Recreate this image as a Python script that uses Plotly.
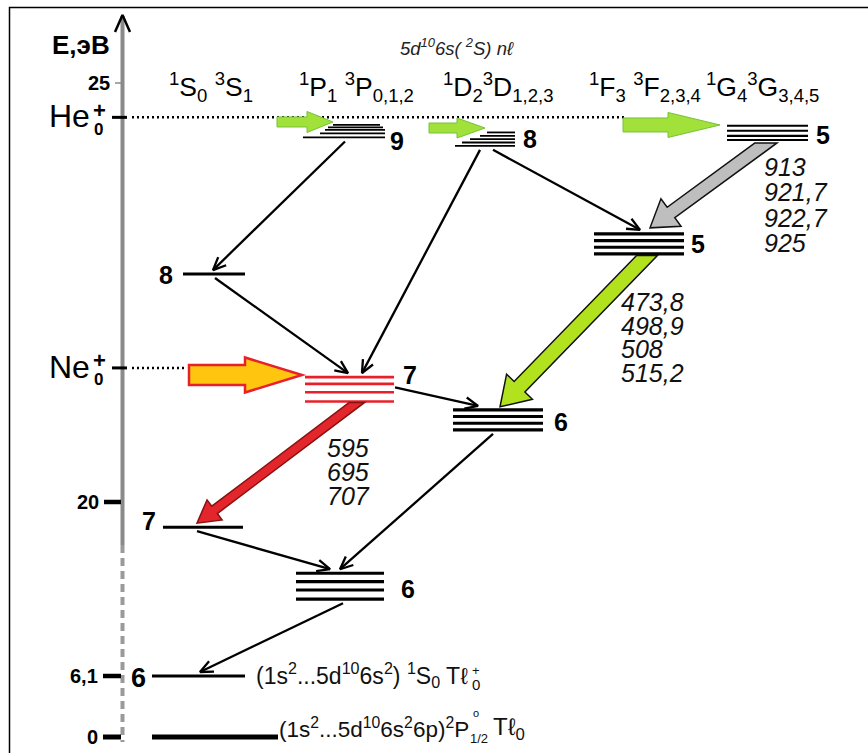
import math
import plotly.graph_objects as go

# ===================== DATA =====================
# Energy axis (eV)
AXIS_TICK_E = [25.0, 20.0, 6.1, 0.0]
AXIS_TICK_LABELS = ["25", "20", "6,1", "0"]
HE_ION_E = 24.59          # He+ ground state (dotted line)
NE_ION_E = 21.60          # Ne+ ground state (dotted line)

TERM_LABELS = [
    "<sup>1</sup>S<sub>0</sub> <sup>3</sup>S<sub>1</sub>",
    "<sup>1</sup>P<sub>1</sub> <sup>3</sup>P<sub>0,1,2</sub>",
    "<sup>1</sup>D<sub>2</sub><sup>3</sup>D<sub>1,2,3</sub>",
    "<sup>1</sup>F<sub>3</sub> <sup>3</sup>F<sub>2,3,4</sub>",
    "<sup>1</sup>G<sub>4</sub><sup>3</sup>G<sub>3,4,5</sub>",
]
CONFIG_LABEL = "<i>5d<sup>10</sup>6s( <sup>2</sup>S) nℓ</i>"

# Tl+ levels: energy of every fine-structure component (eV)
LEVEL_IDS = ["9P", "8D", "5G", "5F", "8S", "7P", "6D", "7S", "6P", "6S", "Tl"]
LEVEL_N = ["9", "8", "5", "5", "8", "7", "6", "7", "6", "6", ""]
LEVEL_E = [
    [24.50, 24.47, 24.44, 24.40, 24.35],
    [24.41, 24.37, 24.33, 24.29, 24.25],
    [24.49, 24.43, 24.37, 24.32],
    [23.20, 23.12, 23.04, 22.96],
    [22.72],
    [21.49, 21.41, 21.31, 21.20],
    [21.10, 21.02, 20.94, 20.86],
    [19.70],
    [19.15, 19.05, 18.95, 18.84],
    [6.1],
    [0.0],
]

# cascade (thin arrows) and laser transitions (thick arrows)
CASCADE = [("9P", "8S"), ("8S", "7P"), ("8D", "7P"), ("8D", "5F"),
           ("7P", "6D"), ("6D", "6P"), ("7S", "6P"), ("6P", "6S")]
LASER = [("5G", "5F"), ("5F", "6D"), ("7P", "7S")]
LASER_WL = [["913", "921,7", "922,7", "925"],
            ["473,8", "498,9", "508", "515,2"],
            ["595", "695", "707"]]
# charge-transfer pumping arrows (eV level at which they are drawn)
HE_PUMP_E = [24.535, 24.463, 24.499]
NE_PUMP_E = 21.516

GROUND_TEXT_1 = "(1s<sup>2</sup>...5d<sup>10</sup>6s<sup>2</sup>) <sup>1</sup>S<sub>0</sub> Tℓ"
GROUND_TEXT_2 = "(1s<sup>2</sup>...5d<sup>10</sup>6s<sup>2</sup>6p)<sup>2</sup>P"

# ===================== LAYOUT / STYLE =====================
W, H = 868, 753
S = 83.8                      # px per eV in the linear (upper) part
E_TOP = 25 + 83 / S
E_BOT = E_TOP - H / S
FONT = "Liberation Sans, Arial, sans-serif"


def disp(E):
    """broken energy axis: values below 15 eV are compressed"""
    return E if E > 15 else E_TOP - (737 - 10 * E) / S


def to_px(E):
    return (E_TOP - disp(E)) * S


def from_px(p):
    return E_TOP - p / S


LEVEL_X0 = {"9P": [333, 328, 325, 320, 303], "8D": [487, 480, 470, 462, 455],
            "5G": [727] * 4, "5F": [594] * 4, "8S": [183], "7P": [305] * 4,
            "6D": [453] * 4, "7S": [163], "6P": [296] * 4, "6S": [152], "Tl": [152]}
LEVEL_X1 = {"9P": [380, 383, 385, 385, 385], "8D": [515] * 5,
            "5G": [808] * 4, "5F": [684] * 4, "8S": [245], "7P": [394] * 4,
            "6D": [543] * 4, "7S": [243], "6P": [384] * 4, "6S": [245], "Tl": [278]}
LEVEL_W = {"9P": 1.8, "8D": 1.8, "5G": 2.2, "5F": 3.2, "8S": 3, "7P": 2.6,
           "6D": 3.2, "7S": 3, "6P": 3.2, "6S": 3.2, "Tl": 5}
LEVEL_NUM_POS = {"9P": (397, 141), "8D": (530, 139), "5G": (823, 135), "5F": (698, 244),
                 "8S": (166, 275), "7P": (410, 375), "6D": (561, 422), "7S": (149, 521),
                 "6P": (408, 589), "6S": (138, 678)}
CASCADE_X = [(345, 213), (215, 348), (480, 362), (493, 640),
             (395, 478), (493, 340), (197, 330), (343, 200)]
LASER_X = [(766, 650), (647, 500), (357, 197)]
LASER_GAP = [(3, 6), (1.5, 3), (1, 4)]
LASER_SW = [6.5, 7.5, 4.6]
LASER_HW = [17, 18, 12.5]
LASER_HL = [26, 28, 22]
LASER_FILL = ["#BEBEBE", "#B2E21E", "#E3262B"]
LASER_LINE = ["#111111", "#111111", "#8B1010"]
LASER_TXT = [(762, 167, 25.3), (619, 302, 23.7), (325, 448, 24)]
HE_PUMP_X = [(277, 333), (429, 485), (623, 720)]
HE_PUMP_SW = [5, 5, 7]
HE_PUMP_HW = [10.5, 10, 12.5]
HE_PUMP_HL = [26, 28, 52]

lv = {k: (e, LEVEL_X0[k], LEVEL_X1[k]) for k, e in zip(LEVEL_IDS, LEVEL_E)}

fig = go.Figure()
shapes, annotations = [], []


def seg_trace(xs, ys_px, color, width, dash=None):
    fig.add_trace(go.Scatter(x=xs, y=[None if v is None else from_px(v) for v in ys_px],
                             mode="lines", hoverinfo="skip", showlegend=False,
                             line=dict(color=color, width=width, dash=dash)))


def label(x, y, text, size, color="black", xanchor="center"):
    annotations.append(dict(x=x, y=from_px(y), text=text, xanchor=xanchor, yanchor="middle",
                            showarrow=False, font=dict(size=size, color=color, family=FONT)))


# ---- frame
shapes.append(dict(type="rect", xref="paper", yref="paper", x0=9.5 / W, x1=1.2,
                   y0=-0.2, y1=1 - 7.5 / H, line=dict(color="black", width=1.5)))

# ---- energy axis
AX_X = 122.5
seg_trace([AX_X, AX_X], [16, 545], "#8A8A8A", 4)
seg_trace([AX_X, AX_X], [545, 742], "#9A9A9A", 4, dash="8px,5px")
seg_trace([115, AX_X, 130], [32, 15, 32], "black", 2.5)
tick_style = {25.0: (115, "#8A8A8A", 1.5), 20.0: (104, "black", 4.5),
              6.1: (103, "black", 4.5), 0.0: (103, "black", 5)}
for e, lab in zip(AXIS_TICK_E, AXIS_TICK_LABELS):
    x0, c, w = tick_style[e]
    y = to_px(e)
    seg_trace([x0, 121], [y, y], c, w)
    label(x0 - 3, y, "<b>%s</b>" % lab, 20, xanchor="right")
label(112, 45, "<b>E,эВ</b>", 26, xanchor="right")

# ---- ion levels (He+, Ne+)
for e, name, xend in [(HE_ION_E, "He", 625), (NE_ION_E, "Ne", 186)]:
    y = to_px(e)
    seg_trace([112, 127], [y, y], "black", 3)
    seg_trace([132, xend], [y, y], "black", 2.5, dash="2px,3px")
    label(92, y - 1, name, 32, xanchor="right")
    label(99, y - 7, "<b>+</b>", 22)
    label(98, y + 12, "<b>0</b>", 17)

# ---- term headers
for lab, x in zip(TERM_LABELS, [167, 297, 441, 587, 704]):
    label(x, 87, lab, 26.5, xanchor="left")
label(398, 47, CONFIG_LABEL, 18.5, color="#222222", xanchor="left")

# ---- levels
for k, n in zip(LEVEL_IDS, LEVEL_N):
    es, x0s, x1s = lv[k]
    xs, ys = [], []
    for e, a, b in zip(es, x0s, x1s):
        xs += [a, b, None]
        ys += [to_px(e), to_px(e), None]
    seg_trace(xs, ys, "#E8202A" if k == "7P" else "black", LEVEL_W[k])
    if n:
        px_, py_ = LEVEL_NUM_POS[k]
        label(px_, py_, "<b>%s</b>" % n, 25 if k != "6S" else 27)


def top_px(k):
    return to_px(max(lv[k][0]))


def bot_px(k):
    return to_px(min(lv[k][0]))


# ---- cascade arrows (thin)
for (a, b), (xa, xb) in zip(CASCADE, CASCADE_X):
    if (a, b) == ("7P", "6D"):
        y0 = (top_px(a) + bot_px(a)) / 2 - 2
    else:
        y0 = bot_px(a) + 4
    y1 = top_px(b) - 4
    dx, dy = xb - xa, y1 - y0
    L = math.hypot(dx, dy)
    ux, uy = dx / L, dy / L
    al, ang = 14, math.radians(24)
    ca, sa = math.cos(ang), math.sin(ang)
    p1 = (xb - al * (ca * ux - sa * uy), y1 - al * (ca * uy + sa * ux))
    p2 = (xb - al * (ca * ux + sa * uy), y1 - al * (ca * uy - sa * ux))
    seg_trace([xa, xb, None, p1[0], xb, p2[0]], [y0, y1, None, p1[1], y1, p2[1]], "black", 2.3)


def arrow_path(x0, y0, x1, y1, sw, hw, hl, flat=False):
    dx, dy = x1 - x0, y1 - y0
    L = math.hypot(dx, dy)
    ux, uy = dx / L, dy / L
    nx, ny = -uy, ux
    bx, by = x1 - ux * hl, y1 - uy * hl
    if flat and abs(uy) > 1e-6:
        t1 = -ny * sw / uy
        s1 = (x0 + nx * sw + t1 * ux, y0)
        t2 = ny * sw / uy
        s2 = (x0 - nx * sw + t2 * ux, y0)
    else:
        s1 = (x0 + nx * sw, y0 + ny * sw)
        s2 = (x0 - nx * sw, y0 - ny * sw)
    pts = [s1, (bx + nx * sw, by + ny * sw), (bx + nx * hw, by + ny * hw), (x1, y1),
           (bx - nx * hw, by - ny * hw), (bx - nx * sw, by - ny * sw), s2]
    return "M " + " L ".join("%.2f,%.5f" % (p[0], from_px(p[1])) for p in pts) + " Z"


# ---- laser transitions (thick arrows)
for i, (a, b) in enumerate(LASER):
    xa, xb = LASER_X[i]
    g0, g1 = LASER_GAP[i]
    path = arrow_path(xa, bot_px(a) + g0, xb, top_px(b) - g1, LASER_SW[i], LASER_HW[i],
                      LASER_HL[i], flat=True)
    shapes.append(dict(type="path", path=path, xref="x", yref="y", fillcolor=LASER_FILL[i],
                       line=dict(color=LASER_LINE[i], width=1.5), layer="above"))
    tx, ty, step = LASER_TXT[i]
    for j, w in enumerate(LASER_WL[i]):
        label(tx, ty + j * step, "<i>%s</i>" % w, 25, color="#111111", xanchor="left")

# ---- charge-transfer pumping arrows
for (xa, xb), e, sw, hw, hl in zip(HE_PUMP_X, HE_PUMP_E, HE_PUMP_SW, HE_PUMP_HW, HE_PUMP_HL):
    y = to_px(e)
    shapes.append(dict(type="path", path=arrow_path(xa, y, xb, y, sw, hw, hl), xref="x",
                       yref="y", fillcolor="#A2E03A", line=dict(color="#74C23A", width=1),
                       layer="above"))
y = to_px(NE_PUMP_E)
shapes.append(dict(type="path", path=arrow_path(189, y, 302, y, 10, 17.5, 57), xref="x",
                   yref="y", fillcolor="#FFC50F", line=dict(color="#E8202A", width=2.5),
                   layer="above"))

# ---- ground-state texts
label(254, 675, GROUND_TEXT_1, 23, color="#111111", xanchor="left")
label(476, 670, "+", 13, color="#111111")
label(476, 684, "0", 15, color="#111111")
label(471, 728, GROUND_TEXT_2, 22.5, color="#111111", xanchor="right")
label(476, 713, "o", 11, color="#111111")
label(479, 738, "1/2", 13, color="#111111")
label(491, 728, "Tℓ<sub>0</sub>", 24, color="#111111", xanchor="left")

fig.update_layout(
    width=W, height=H, autosize=False, margin=dict(l=0, r=0, t=0, b=0),
    paper_bgcolor="white", plot_bgcolor="white",
    xaxis=dict(range=[0, W], visible=False, fixedrange=True),
    yaxis=dict(range=[E_BOT, E_TOP], visible=False, fixedrange=True),
    shapes=shapes, annotations=annotations, showlegend=False,
)
fig.write_html("out.html", config={"displayModeBar": False, "staticPlot": True},
               post_script="document.body.style.margin='0';")
